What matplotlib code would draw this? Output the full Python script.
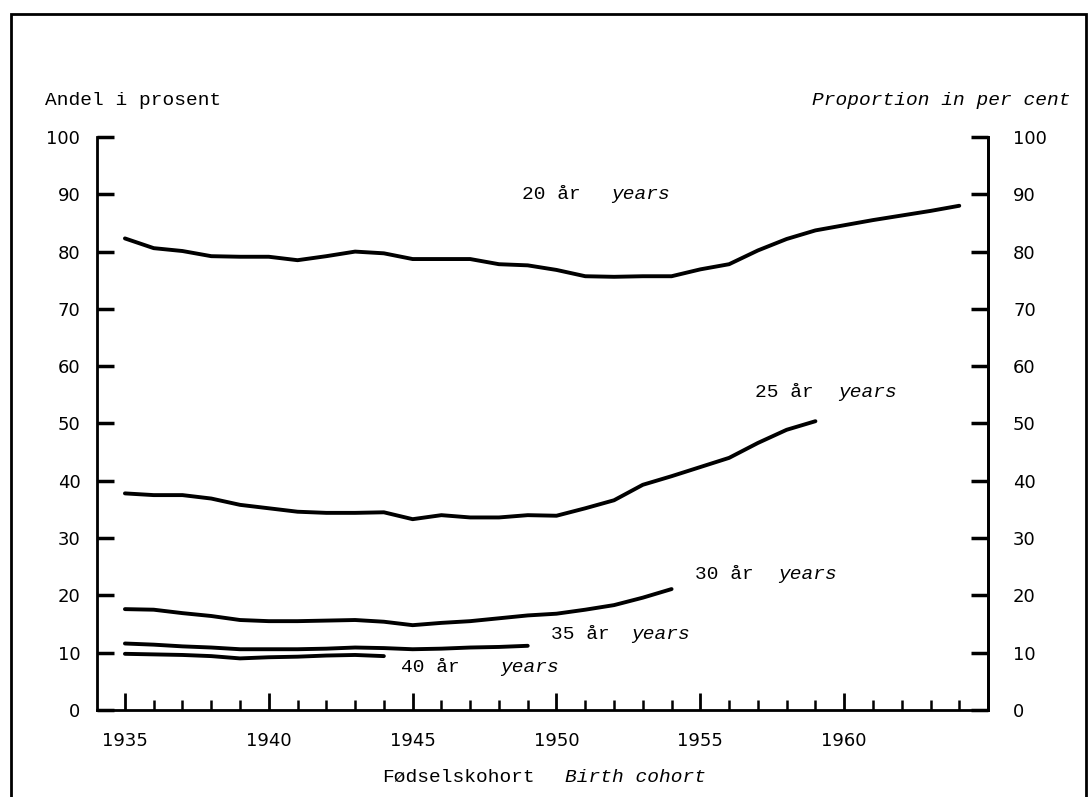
import matplotlib.pyplot as plt
import matplotlib.patches as mpatches
from matplotlib.ticker import MultipleLocator

# Andel gift / samboende etter alder, fodselskohort 1935-1964
aar20 = list(range(1935, 1965))
andel20 = [82.3, 80.6, 80.1, 79.2, 79.1, 79.1, 78.5, 79.2, 80.0, 79.7,
           78.7, 78.7, 78.7, 77.8, 77.6, 76.8, 75.7, 75.6, 75.7, 75.7,
           76.9, 77.8, 80.2, 82.2, 83.7, 84.6, 85.5, 86.3, 87.1, 88.0]

aar25 = list(range(1935, 1960))
andel25 = [37.8, 37.5, 37.5, 36.9, 35.8, 35.2, 34.6, 34.4, 34.4, 34.5,
           33.3, 34.0, 33.6, 33.6, 34.0, 33.9, 35.2, 36.6, 39.3, 40.8,
           42.4, 44.0, 46.6, 48.9, 50.4]

aar30 = list(range(1935, 1955))
andel30 = [17.6, 17.5, 16.9, 16.4, 15.7, 15.5, 15.5, 15.6, 15.7, 15.4,
           14.8, 15.2, 15.5, 16.0, 16.5, 16.8, 17.5, 18.3, 19.6, 21.1]

aar35 = list(range(1935, 1950))
andel35 = [11.6, 11.4, 11.1, 10.9, 10.6, 10.6, 10.6, 10.7, 10.9, 10.8,
           10.6, 10.7, 10.9, 11.0, 11.2]

aar40 = list(range(1935, 1945))
andel40 = [9.8, 9.7, 9.6, 9.4, 9.0, 9.2, 9.3, 9.5, 9.6, 9.4]

# tekst, x for "år", x for "years", hoyde
etiketter = [("20 år", 1948.8, 1951.9, 89.9),
             ("25 år", 1956.9, 1959.8, 55.4),
             ("30 år", 1954.8, 1957.7, 23.6),
             ("35 år", 1949.8, 1952.6, 13.1),
             ("40 år", 1944.6, 1948.05, 7.4)]

mono = "Liberation Mono"

fig = plt.figure(figsize=(10.89, 7.97), dpi=100)
fig.patches.append(mpatches.Rectangle((0.010, -0.02), 0.987, 1.003, transform=fig.transFigure,
                                      fill=False, edgecolor="black", linewidth=2))

ax = fig.add_axes([0.0891, 0.1092, 0.8182, 0.7189])
for x, y in [(aar20, andel20), (aar25, andel25), (aar30, andel30),
             (aar35, andel35), (aar40, andel40)]:
    ax.plot(x, y, color="black", linewidth=2.8, solid_capstyle="round")

ax.set_xlim(1934.03, 1965.0)
ax.set_ylim(0, 100)
ax.spines["top"].set_visible(False)
for s in ["left", "right", "bottom"]:
    ax.spines[s].set_linewidth(2)

ax.set_xticks(range(1935, 1961, 5))
ax.xaxis.set_minor_locator(MultipleLocator(1))
ax.yaxis.set_major_locator(MultipleLocator(10))
ax.tick_params(axis="x", which="major", direction="in", length=12, width=2, pad=16, labelsize=13)
ax.tick_params(axis="x", which="minor", direction="in", length=7, width=1.8)
ax.tick_params(axis="y", which="major", direction="in", length=12, width=2.5, pad=12, labelsize=13)

# hoyre akse med samme skala
ax2 = ax.twinx()
ax2.set_ylim(0, 100)
ax2.yaxis.set_major_locator(MultipleLocator(10))
ax2.spines["top"].set_visible(False)
ax2.spines["right"].set_linewidth(2)
ax2.tick_params(axis="y", which="major", direction="in", length=12, width=2.5, pad=18, labelsize=13)

for tekst, x, x2, y in etiketter:
    ax.text(x, y, tekst, family=mono, fontsize=14, ha="left", va="center")
    ax.text(x2, y, "years", family=mono, style="italic", fontsize=14, ha="left", va="center")

fig.text(0.041, 0.874, "Andel i prosent", family=mono, fontsize=14, ha="left", va="center")
fig.text(0.983, 0.874, "Proportion in per cent", family=mono, style="italic",
         fontsize=14, ha="right", va="center")
fig.text(0.351, 0.024, "Fødselskohort", family=mono, fontsize=14, ha="left", va="center")
fig.text(0.519, 0.024, "Birth cohort", family=mono, style="italic", fontsize=14,
         ha="left", va="center")

fig.savefig("out.png", dpi=100)
